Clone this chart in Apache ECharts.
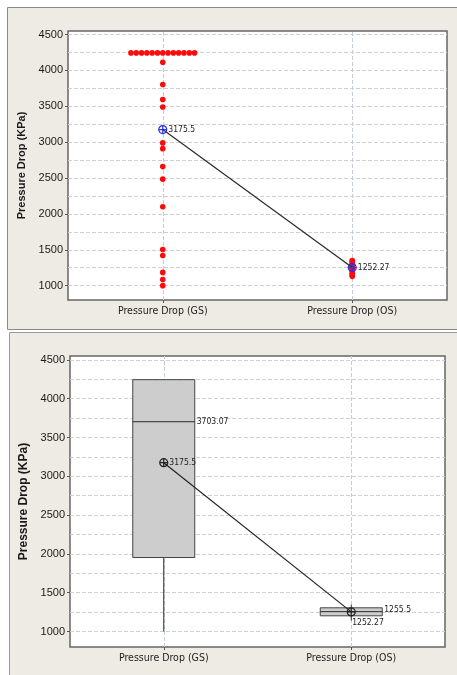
<!DOCTYPE html>
<html><head><meta charset="utf-8">
<script src="https://cdn.jsdelivr.net/npm/echarts@6/dist/echarts.min.js"></script>
<style>html,body{margin:0;padding:0;background:#fff}#c{width:457px;height:675px}</style>
</head><body><div id="c"></div>
<script>
// ---------- data ----------
const categories = ['Pressure Drop (GS)', 'Pressure Drop (OS)'];
const gsValues = [4245,4245,4245,4245,4245,4245,4245,4245,4245,4245,4245,4245,4245,
                  4115, 3805, 3595, 3490, 2990, 2910, 2660, 2485, 2100, 1505, 1420, 1185, 1085, 1000];
const osValues = [1350, 1335, 1315, 1295, 1275, 1262, 1255, 1248, 1235, 1215, 1195, 1170, 1150, 1130];
const meanValues = [3175.5, 1252.27];
// [min, Q1, median, Q3, max]
const boxGS = [1000, 1953, 3703.07, 4245, 4245];
const boxOS = [1140, 1202, 1255.5, 1305, 1345];
const medianLabels = ['3703.07', '1255.5'];
const yTicks = [1000, 1500, 2000, 2500, 3000, 3500, 4000, 4500];
const gridLevels = [1000,1250,1500,1750,2000,2250,2500,2750,3000,3250,3500,3750,4000,4250,4500];
const yTitle = 'Pressure Drop (KPa)';

// ---------- styling helpers ----------
const NARROW = "'DejaVu Sans Condensed','Liberation Sans',sans-serif";
const SANS = "'Liberation Sans',Arial,sans-serif";
const meanPath = 'path://M10,2A8,8 0 1,1 10,18A8,8 0 1,1 10,2ZM2,10L18,10M10,2L10,18';

function tieOffsets(vals, spacing) {
  const counts = {}, seen = {};
  vals.forEach(v => counts[v] = (counts[v] || 0) + 1);
  return vals.map(v => {
    seen[v] = seen[v] === undefined ? 0 : seen[v] + 1;
    return (seen[v] - (counts[v] - 1) / 2) * spacing;
  });
}
const gsOff = tieOffsets(gsValues, 5.3);
const osOff = tieOffsets(osValues, 5.3);

const chart = echarts.init(document.getElementById('c'), null, {renderer: 'canvas'});

function xAxisCfg(gi) {
  return {
    type: 'category', gridIndex: gi, data: categories, boundaryGap: true,
    axisLine: {show: false},
    axisTick: {show: true, alignWithLabel: true, length: 3, lineStyle: {color: '#555'}},
    axisLabel: {margin: 6, fontSize: 10.5, fontFamily: NARROW, color: '#222'},
    splitLine: {show: false}
  };
}
function yAxisCfg(gi, nameSize, gap) {
  return {
    type: 'value', gridIndex: gi, min: 800, max: 4550,
    axisLine: {show: false},
    axisTick: {show: true, length: 3, customValues: yTicks, lineStyle: {color: '#555'}},
    axisLabel: {customValues: yTicks, fontSize: 11, fontFamily: SANS, color: '#1a1a1a', margin: 5,
                formatter: v => String(v)},
    splitLine: {show: false},
    name: yTitle, nameLocation: 'middle', nameGap: gap,
    nameTextStyle: {fontSize: nameSize, fontWeight: 'bold', fontFamily: SANS, color: '#1a1a1a'}
  };
}
function gridLineSeries(gi) {
  return {
    type: 'line', xAxisIndex: gi, yAxisIndex: gi, data: [], z: 1, silent: true,
    markLine: {
      z: 1, silent: true, symbol: ['none', 'none'], label: {show: false}, animation: false,
      lineStyle: {type: [4, 2], color: '#d0d0d0', width: 1},
      data: gridLevels.map(v => ({yAxis: v}))
        .concat(categories.map(c => ({xAxis: c, lineStyle: {type: [4, 2], color: '#c6ccd8', width: 1}})))
    }
  };
}

const option = {
  backgroundColor: '#ffffff',
  animation: false,
  graphic: {elements: [
    {type: 'rect', z: -100, shape: {x: 7.5, y: 7.5, width: 470, height: 322},
     style: {fill: '#EEEBE4', stroke: '#8a8a8a', lineWidth: 1}},
    {type: 'rect', z: -100, shape: {x: 9.5, y: 332.5, width: 470, height: 360},
     style: {fill: '#EEEBE4', stroke: '#9a9a9a', lineWidth: 1}}
  ]},
  grid: [
    {left: 68, top: 31, right: 10, bottom: 375, show: true, backgroundColor: '#fff', borderColor: '#666', borderWidth: 1.5, containLabel: false},
    {left: 70, top: 356, right: 12, bottom: 28, show: true, backgroundColor: '#fff', borderColor: '#666', borderWidth: 1.5, containLabel: false}
  ],
  xAxis: [xAxisCfg(0), xAxisCfg(1)],
  yAxis: [yAxisCfg(0, 11, 28), yAxisCfg(1, 12, 29)],
  series: [
    gridLineSeries(0),
    {type: 'scatter', xAxisIndex: 0, yAxisIndex: 0, z: 2, symbolSize: 5.6,
     itemStyle: {color: '#ff0a0a', opacity: 1},
     data: gsValues.map((v, i) => ({value: [0, v], symbolOffset: [gsOff[i], 0]}))},
    {type: 'scatter', xAxisIndex: 0, yAxisIndex: 0, z: 2, symbolSize: 5.6,
     itemStyle: {color: '#ff0a0a', opacity: 1},
     data: osValues.map((v, i) => ({value: [1, v], symbolOffset: [osOff[i], 0]}))},
    {type: 'line', xAxisIndex: 0, yAxisIndex: 0, z: 4, data: meanValues,
     symbol: meanPath, symbolSize: 8, showSymbol: true,
     itemStyle: {color: 'rgba(0,0,0,0)', borderColor: '#3030dd', borderWidth: 1.2},
     lineStyle: {color: '#2a2a2a', width: 1.2},
     label: {show: true, position: 'right', distance: 1, fontSize: 8.5, fontFamily: NARROW, color: '#222',
             formatter: p => String(p.value)}},

    gridLineSeries(1),
    {type: 'custom', xAxisIndex: 1, yAxisIndex: 1, z: 2,
     data: [[0].concat(boxGS), [1].concat(boxOS)],
     encode: {x: 0, y: [1, 2, 3, 4, 5]},
     renderItem: function (params, api) {
       const xi = api.value(0);
       const pMin = api.coord([xi, api.value(1)]);
       const pQ1 = api.coord([xi, api.value(2)]);
       const pMed = api.coord([xi, api.value(3)]);
       const pQ3 = api.coord([xi, api.value(4)]);
       const pMax = api.coord([xi, api.value(5)]);
       const cx = pMed[0];
       const bw = 62;
       const ls = {stroke: '#2a2a2a', lineWidth: 1};
       return {type: 'group', children: [
         {type: 'line', shape: {x1: cx, y1: pQ1[1], x2: cx, y2: pMin[1]}, style: ls},
         {type: 'line', shape: {x1: cx, y1: pQ3[1], x2: cx, y2: pMax[1]}, style: ls},
         {type: 'rect', shape: {x: cx - bw / 2, y: pQ3[1], width: bw, height: pQ1[1] - pQ3[1]},
          style: {fill: '#cdcdcd', stroke: '#444', lineWidth: 1}},
         {type: 'line', shape: {x1: cx - bw / 2, y1: pMed[1], x2: cx + bw / 2, y2: pMed[1]}, style: ls},
         {type: 'text', style: {text: medianLabels[params.dataIndex], x: cx + bw / 2 + 2, y: pMed[1] - (xi === 1 ? 2 : 0),
           verticalAlign: 'middle', align: 'left', fontSize: 8.5, fontFamily: NARROW, fill: '#222'}}
       ]};
     }},
    {type: 'line', xAxisIndex: 1, yAxisIndex: 1, z: 4,
     data: [
       {value: meanValues[0]},
       {value: meanValues[1], label: {position: [5.5, 11]}}
     ],
     symbol: meanPath, symbolSize: 8, showSymbol: true,
     itemStyle: {color: 'rgba(0,0,0,0)', borderColor: '#222', borderWidth: 1.2},
     lineStyle: {color: '#222', width: 1.2},
     label: {show: true, position: 'right', distance: 1, fontSize: 8.5, fontFamily: NARROW, color: '#222',
             formatter: p => String(p.value)}}
  ]
};
chart.setOption(option);
</script>
</body></html>
